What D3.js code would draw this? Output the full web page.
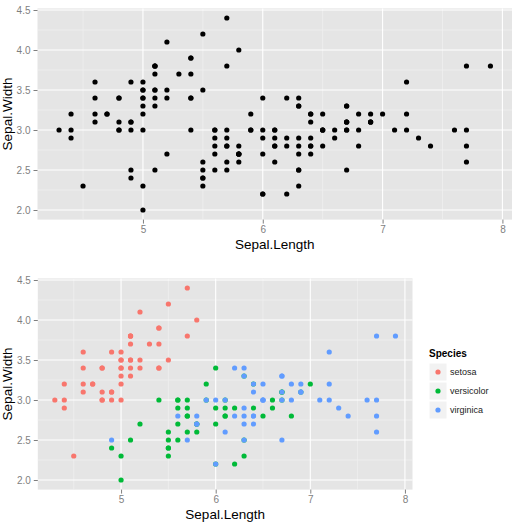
<!DOCTYPE html>
<html>
<head>
<meta charset="utf-8">
<title>Iris sepal scatter</title>
<script src="https://d3js.org/d3.v7.min.js"></script>
<style>
  body { margin: 0; background: #fff; }
  svg { font-family: "Liberation Sans", Arial, sans-serif; }
  .tick text { fill: #7f7f7f; font-size: 10px; }
  .tick line { stroke: #7f7f7f; }
</style>
</head>
<body>
<div id="chart"></div>
<script>
// iris: sepal length / width by species
const species = ["setosa", "versicolor", "virginica"];
const colors = ["#F8766D", "#00BA38", "#619CFF"];

const setosaLength = [5.1,4.9,4.7,4.6,5.0,5.4,4.6,5.0,4.4,4.9,5.4,4.8,4.8,4.3,5.8,5.7,5.4,5.1,5.7,5.1,5.4,5.1,4.6,5.1,4.8,5.0,5.0,5.2,5.2,4.7,4.8,5.4,5.2,5.5,4.9,5.0,5.5,4.9,4.4,5.1,5.0,4.5,4.4,5.0,5.1,4.8,5.1,4.6,5.3,5.0];
const setosaWidth  = [3.5,3.0,3.2,3.1,3.6,3.9,3.4,3.4,2.9,3.1,3.7,3.4,3.0,3.0,4.0,4.4,3.9,3.5,3.8,3.8,3.4,3.7,3.6,3.3,3.4,3.0,3.4,3.5,3.4,3.2,3.1,3.4,4.1,4.2,3.1,3.2,3.5,3.6,3.0,3.4,3.5,2.3,3.2,3.5,3.8,3.0,3.8,3.2,3.7,3.3];
const versicolorLength = [7.0,6.4,6.9,5.5,6.5,5.7,6.3,4.9,6.6,5.2,5.0,5.9,6.0,6.1,5.6,6.7,5.6,5.8,6.2,5.6,5.9,6.1,6.3,6.1,6.4,6.6,6.8,6.7,6.0,5.7,5.5,5.5,5.8,6.0,5.4,6.0,6.7,6.3,5.6,5.5,5.5,6.1,5.8,5.0,5.6,5.7,5.7,6.2,5.1,5.7];
const versicolorWidth  = [3.2,3.2,3.1,2.3,2.8,2.8,3.3,2.4,2.9,2.7,2.0,3.0,2.2,2.9,2.9,3.1,3.0,2.7,2.2,2.5,3.2,2.8,2.5,2.8,2.9,3.0,2.8,3.0,2.9,2.6,2.4,2.4,2.7,2.7,3.0,3.4,3.1,2.3,3.0,2.5,2.6,3.0,2.6,2.3,2.7,3.0,2.9,2.9,2.5,2.8];
const virginicaLength = [6.3,5.8,7.1,6.3,6.5,7.6,4.9,7.3,6.7,7.2,6.5,6.4,6.8,5.7,5.8,6.4,6.5,7.7,7.7,6.0,6.9,5.6,7.7,6.3,6.7,7.2,6.2,6.1,6.4,7.2,7.4,7.9,6.4,6.3,6.1,7.7,6.3,6.4,6.0,6.9,6.7,6.9,5.8,6.8,6.7,6.7,6.3,6.5,6.2,5.9];
const virginicaWidth  = [3.3,2.7,3.0,2.9,3.0,3.0,2.5,2.9,2.5,3.6,3.2,2.7,3.0,2.5,2.8,3.2,3.0,3.8,2.6,2.2,3.2,2.8,2.8,2.7,3.3,3.2,2.8,3.0,2.8,3.0,2.8,3.8,2.8,2.8,2.6,3.0,3.4,3.1,3.0,3.1,3.1,3.1,2.7,3.2,3.3,3.0,2.5,3.0,3.4,3.0];

const xTicks = [5, 6, 7, 8];
const yTicks = [2.0, 2.5, 3.0, 3.5, 4.0, 4.5];

const lengths = [setosaLength, versicolorLength, virginicaLength];
const widths = [setosaWidth, versicolorWidth, virginicaWidth];
const points = [];
species.forEach((s, k) => {
  lengths[k].forEach((v, i) => points.push({ x: v, y: widths[k][i], s: s }));
});

const W = 512, H = 523;
const svg = d3.select("#chart").append("svg")
  .attr("width", W).attr("height", H);

const color = d3.scaleOrdinal().domain(species).range(colors);

// ggplot-style expanded domains (5% each side)
const xExt = d3.extent(points, d => d.x), yExt = d3.extent(points, d => d.y);
const xPad = (xExt[1] - xExt[0]) * 0.05, yPad = (yExt[1] - yExt[0]) * 0.05;
const xDom = [xExt[0] - xPad, xExt[1] + xPad];
const yDom = [yExt[0] - yPad, yExt[1] + yPad];

function panel(box, colored) {
  const x = d3.scaleLinear().domain(xDom).range([box.left, box.right]);
  const y = d3.scaleLinear().domain(yDom).range([box.bottom, box.top]);
  const g = svg.append("g");

  g.append("rect")
    .attr("x", box.left).attr("y", box.top)
    .attr("width", box.right - box.left).attr("height", box.bottom - box.top)
    .attr("fill", "#e5e5e5");

  // minor grid
  const xMinor = xTicks.map(t => t - 0.5);
  const yMinor = yTicks.slice(0, -1).map(t => t + 0.25);
  g.selectAll(".xminor").data(xMinor).enter().append("line")
    .attr("x1", d => x(d)).attr("x2", d => x(d))
    .attr("y1", box.top).attr("y2", box.bottom)
    .attr("stroke", "#f2f2f2").attr("stroke-width", 0.6);
  g.selectAll(".yminor").data(yMinor).enter().append("line")
    .attr("y1", d => y(d)).attr("y2", d => y(d))
    .attr("x1", box.left).attr("x2", box.right)
    .attr("stroke", "#f2f2f2").attr("stroke-width", 0.6);
  // major grid
  g.selectAll(".xmajor").data(xTicks).enter().append("line")
    .attr("x1", d => x(d)).attr("x2", d => x(d))
    .attr("y1", box.top).attr("y2", box.bottom)
    .attr("stroke", "#fff").attr("stroke-width", 1.1);
  g.selectAll(".ymajor").data(yTicks).enter().append("line")
    .attr("y1", d => y(d)).attr("y2", d => y(d))
    .attr("x1", box.left).attr("x2", box.right)
    .attr("stroke", "#fff").attr("stroke-width", 1.1);

  g.selectAll(".pt").data(points).enter().append("circle")
    .attr("cx", d => x(d.x)).attr("cy", d => y(d.y))
    .attr("r", 2.6)
    .attr("fill", d => colored ? color(d.s) : "#000");

  const ax = g.append("g")
    .attr("transform", `translate(0,${box.bottom})`)
    .call(d3.axisBottom(x).tickValues(xTicks).tickSize(4).tickPadding(2).tickFormat(d3.format("d")));
  ax.select(".domain").remove();

  const ay = g.append("g")
    .attr("transform", `translate(${box.left},0)`)
    .call(d3.axisLeft(y).tickValues(yTicks).tickSize(4).tickPadding(3).tickFormat(d3.format(".1f")));
  ay.select(".domain").remove();

  g.append("text")
    .attr("x", (box.left + box.right) / 2).attr("y", box.bottom + 29)
    .attr("text-anchor", "middle").attr("font-size", 13.5).attr("fill", "#000")
    .text("Sepal.Length");
  g.append("text")
    .attr("transform", `translate(12,${(box.top + box.bottom) / 2}) rotate(-90)`)
    .attr("text-anchor", "middle").attr("font-size", 13.5).attr("fill", "#000")
    .text("Sepal.Width");
}

panel({ left: 37.5, right: 512, top: 8.4, bottom: 219.6 }, false);
panel({ left: 37.8, right: 412.5, top: 278.4, bottom: 489.6 }, true);

// legend
const leg = svg.append("g").attr("transform", "translate(429,0)");
leg.append("text")
  .attr("x", 0).attr("y", 357)
  .attr("font-size", 10).attr("font-weight", "bold").attr("fill", "#000")
  .text("Species");
const keyY = d3.scalePoint().domain(species).range([372, 410]);
const keys = leg.selectAll(".key").data(species).enter().append("g")
  .attr("transform", d => `translate(0,${keyY(d)})`);
keys.append("rect")
  .attr("x", 0).attr("y", -9).attr("width", 18).attr("height", 18)
  .attr("fill", "#f2f2f2").attr("stroke", "#fff").attr("stroke-width", 1);
keys.append("circle")
  .attr("cx", 9).attr("cy", 0).attr("r", 2.6)
  .attr("fill", d => color(d));
keys.append("text")
  .attr("x", 21).attr("y", 3.3)
  .attr("font-size", 9).attr("fill", "#222")
  .text(d => d);
</script>
</body>
</html>
